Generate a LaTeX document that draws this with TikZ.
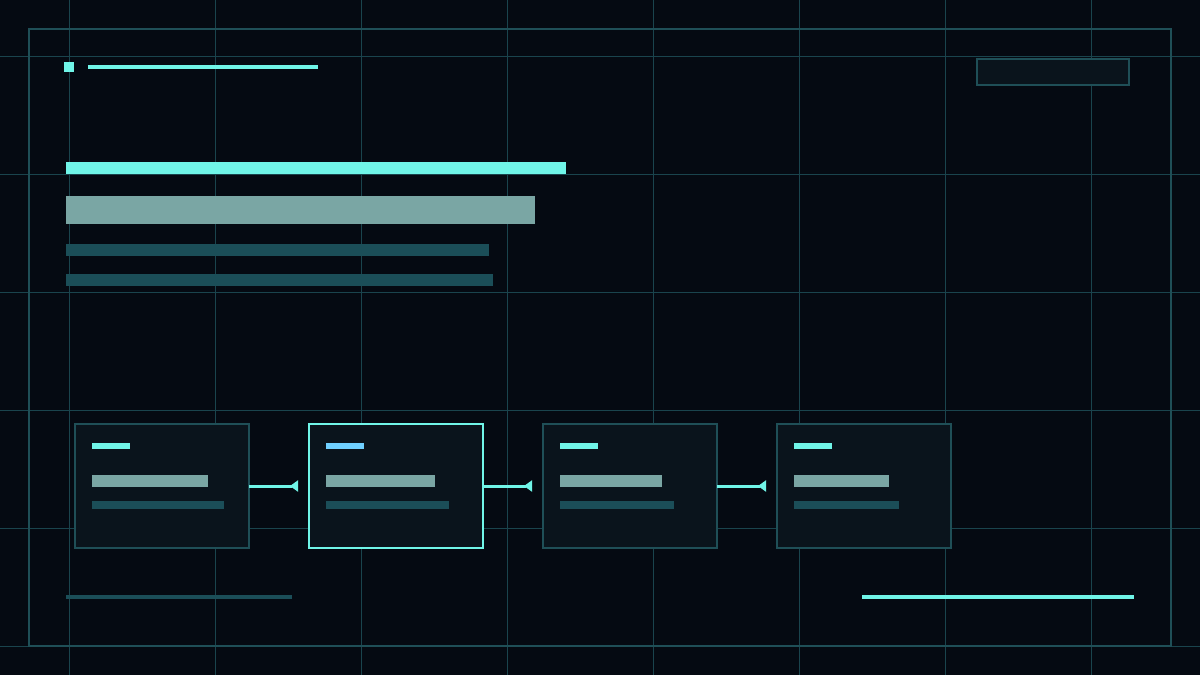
\documentclass[tikz,border=0pt]{standalone}
\usetikzlibrary{arrows.meta}
\definecolor{bg}{HTML}{050A12}
\definecolor{gridc}{HTML}{1A444D}
\definecolor{framec}{HTML}{1F4F57}
\definecolor{cyanc}{HTML}{70F5E8}
\definecolor{greyc}{HTML}{7AA6A4}
\definecolor{darkc}{HTML}{1B4E58}
\definecolor{boxfill}{HTML}{0A141C}
\definecolor{bluec}{HTML}{6FD0FF}
\tikzset{
  gridline/.style={draw=gridc, line width=1pt},
  box/.style={draw=framec, fill=boxfill, line width=2pt, minimum width=174pt, minimum height=124pt, inner sep=0pt, outer sep=0pt},
  activebox/.style={box, draw=cyanc},
  conn/.style={draw=cyanc, line width=3pt, shorten >=11pt, -{Triangle[reversed, length=8pt, width=11pt]}},
  topbar/.style={fill=cyanc},
  midbar/.style={fill=greyc},
  lowbar/.style={fill=darkc},
}
\begin{document}
\begin{tikzpicture}[x=1pt, y=-1pt]
\fill[bg] (0,0) rectangle (1200,675);
\useasboundingbox (0,0) rectangle (1200,675);
% grid
\foreach \gx in {69,215,361,507,653,799,945,1091} \draw[gridline] (\gx,0) -- (\gx,675);
\foreach \gy in {56,174,292,410,528,646} \draw[gridline] (0,\gy) -- (1200,\gy);
% frame
\draw[draw=framec, line width=2pt] (29,29) rectangle (1171,646);
% header
\fill[cyanc] (64,62) rectangle (74,72);
\fill[cyanc] (88,65) rectangle (318,69);
\node[draw=framec, fill=boxfill, line width=2pt, minimum width=152pt, minimum height=26pt, inner sep=0pt] (tag) at (1053,72) {};
% title bars
\fill[topbar] (66,162) rectangle (566,174);
\fill[midbar] (66,196) rectangle (535,224);
\fill[lowbar] (66,244) rectangle (489,256);
\fill[lowbar] (66,274) rectangle (493,286);
% boxes
\node[box] (b1) at (162,486) {};
\node[activebox] (b2) at (396,486) {};
\node[box] (b3) at (630,486) {};
\node[box] (b4) at (864,486) {};
% inner bars
\foreach \b/\c/\g/\d in {b1/cyanc/116/132, b2/bluec/109/123, b3/cyanc/102/114, b4/cyanc/95/105}{
  \fill[\c] ([xshift=17pt, yshift=-19pt]\b.north west) rectangle ++(38,6);
  \fill[midbar] ([xshift=17pt, yshift=-51pt]\b.north west) rectangle ++(\g,12);
  \fill[lowbar] ([xshift=17pt, yshift=-77pt]\b.north west) rectangle ++(\d,8);
}
% connectors
\draw[conn] (b1.east) -- (b2.west);
\draw[conn] (b2.east) -- (b3.west);
\draw[conn] (b3.east) -- (b4.west);
% footer lines
\fill[lowbar] (66,595) rectangle (292,599);
\fill[topbar] (862,595) rectangle (1134,599);
\end{tikzpicture}
\end{document}
